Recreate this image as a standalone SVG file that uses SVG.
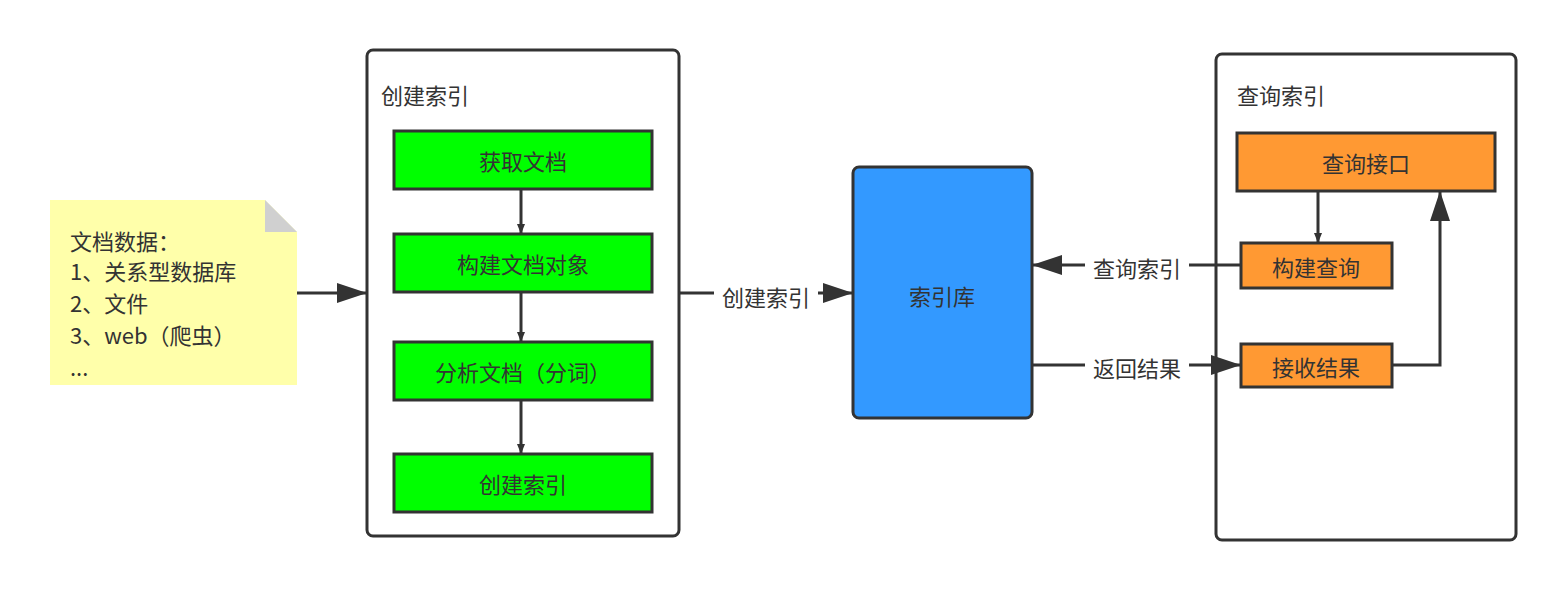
<svg xmlns="http://www.w3.org/2000/svg" width="1566" height="590" viewBox="0 0 1566 590">
<style>
text{font-family:"Noto Sans CJK SC","Noto Sans",sans-serif;font-size:22px;fill:#333}
.c{text-anchor:middle;dominant-baseline:central}
.box{stroke:#333;stroke-width:3}
.ln{stroke:#333;stroke-width:3;fill:none}
</style>
<defs>
<marker id="a" viewBox="0 0 10 10" refX="10" refY="5" markerWidth="10" markerHeight="8" markerUnits="userSpaceOnUse" orient="auto" preserveAspectRatio="none"><path d="M0,0L10,5L0,10z" fill="#333"/></marker>
<marker id="b" viewBox="0 0 10 10" refX="10" refY="5" markerWidth="30" markerHeight="20" markerUnits="userSpaceOnUse" orient="auto" preserveAspectRatio="none"><path d="M0,0L10,5L0,10z" fill="#333"/></marker>
</defs>
<rect width="1566" height="590" fill="#fff"/>
<g id="note">
<path d="M50,200H265L297,232V385H50Z" fill="#ffffaa"/>
<path d="M265,200V232H297Z" fill="#d0d0d0"/>
<text x="70" y="250">文档数据：</text>
<text x="70" y="280">1、关系型数据库</text>
<text x="70" y="312">2、文件</text>
<text x="70" y="344">3、web（爬虫）</text>
<text x="70" y="376">...</text>
</g>
<g id="create">
<rect x="367" y="50" width="312" height="486" rx="6" fill="#fff" class="box"/>
<text x="381" y="104">创建索引</text>
</g>
<g id="n1"><rect x="394" y="131" width="258" height="58" fill="#00ff00" class="box"/><text x="523" y="160" class="c">获取文档</text></g>
<g id="n2"><rect x="394" y="234" width="258" height="58" fill="#00ff00" class="box"/><text x="523" y="263" class="c">构建文档对象</text></g>
<g id="n3"><rect x="394" y="342" width="258" height="58" fill="#00ff00" class="box"/><text x="523" y="371" class="c">分析文档（分词）</text></g>
<g id="n4"><rect x="394" y="454" width="258" height="58" fill="#00ff00" class="box"/><text x="523" y="483" class="c">创建索引</text></g>
<g id="lib"><rect x="853" y="167" width="179" height="251" rx="6" fill="#3399ff" class="box"/><text x="942" y="295" class="c">索引库</text></g>
<g id="query">
<rect x="1216" y="54" width="300" height="486" rx="6" fill="#fff" class="box"/>
<text x="1237" y="104">查询索引</text>
</g>
<g id="q1"><rect x="1237" y="133" width="258" height="58" fill="#ff9933" class="box"/><text x="1366" y="162" class="c">查询接口</text></g>
<g id="q2"><rect x="1241" y="243" width="151" height="45" fill="#ff9933" class="box"/><text x="1316" y="266" class="c">构建查询</text></g>
<g id="q3"><rect x="1241" y="344" width="151" height="43" fill="#ff9933" class="box"/><text x="1316" y="366" class="c">接收结果</text></g>
<g id="edges">
<path class="ln" d="M521,189V234" marker-end="url(#a)"/>
<path class="ln" d="M521,292V342" marker-end="url(#a)"/>
<path class="ln" d="M521,400V454" marker-end="url(#a)"/>
<path class="ln" d="M297,293H367" marker-end="url(#b)"/>
<path class="ln" d="M679,293H853" marker-end="url(#b)"/>
<rect x="714" y="281" width="104" height="28" fill="#fff"/>
<text x="766" y="296" class="c">创建索引</text>
<path class="ln" d="M1318,191V243" marker-end="url(#a)"/>
<path class="ln" d="M1241,265H1032" marker-end="url(#b)"/>
<rect x="1085" y="252" width="104" height="28" fill="#fff"/>
<text x="1137" y="267" class="c">查询索引</text>
<path class="ln" d="M1032,365H1241" marker-end="url(#b)"/>
<rect x="1085" y="352" width="104" height="28" fill="#fff"/>
<text x="1137" y="367" class="c">返回结果</text>
<path class="ln" d="M1392,365H1440V191" marker-end="url(#b)"/>
</g>
</svg>
